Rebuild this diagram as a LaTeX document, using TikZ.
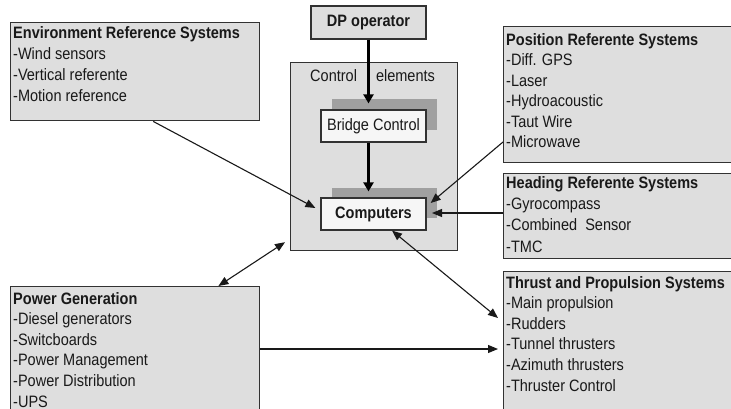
\documentclass[tikz,border=0pt]{standalone}
\usepackage{fontspec}
\setmainfont{Liberation Sans}[FakeStretch=0.88]
\usetikzlibrary{arrows.meta,calc}
\definecolor{boxgray}{RGB}{222,222,222}
\definecolor{shadowgray}{RGB}{160,160,160}
\definecolor{edge}{RGB}{50,50,50}
\definecolor{ink}{RGB}{25,25,25}
\definecolor{whitebox}{RGB}{246,246,246}
\begin{document}
\begin{tikzpicture}[x=1pt,y=-1pt,
  panel/.style={draw=edge, line width=1.4pt, fill=boxgray, anchor=north west, inner sep=0pt},
  lst/.style={anchor=base west, align=left, inner sep=0pt, text=ink, font=\fontsize{16.5}{20.6}\selectfont},
  innerbox/.style={draw=edge, line width=1.2pt, fill=whitebox, minimum width=105pt, minimum height=32pt, inner sep=0pt, text=ink, font=\fontsize{16.5}{20}\selectfont},
  shadebox/.style={fill=shadowgray, minimum width=105pt, minimum height=30pt, inner sep=0pt},
  arr/.style={draw=ink, line width=1.1pt, -{Triangle[length=10pt,width=8pt]}},
  darr/.style={draw=ink, line width=1.1pt, {Triangle[length=10pt,width=8pt]}-{Triangle[length=10pt,width=8pt]}},
  bigarr/.style={draw=black, line width=3pt, -{Triangle[length=9pt,width=10pt]}}
]
\useasboundingbox (0,0) rectangle (731,409);
\fill[white] (0,0) rectangle (731,409);

% panels
\node[panel, minimum width=249pt, minimum height=98pt] (env) at (10,22) {};
\node[panel, minimum width=232pt, minimum height=136pt] (pos) at (503,26) {};
\node[panel, minimum width=232pt, minimum height=85pt] (head) at (503,173) {};
\node[panel, minimum width=232pt, minimum height=150pt] (thr) at (503,271) {};
\node[panel, minimum width=249pt, minimum height=135pt] (pow) at (10,286) {};
\node[panel, line width=1.2pt, minimum width=167pt, minimum height=188pt] (ctrl) at (290,62) {};

% texts in panels (anchored at the baseline of their last line)
\node[lst, font=\fontsize{16.5}{21}\selectfont] (envt) at (13,102) {\textbf{Environment Reference Systems}\\-Wind sensors\\-Vertical referente\\-Motion reference};
\node[lst] (post) at (506,148) {\textbf{Position Referente Systems}\\-Diff. GPS\\-Laser\\-Hydroacoustic\\-Taut Wire\\-Microwave};
\node[lst, font=\fontsize{16.5}{21.2}\selectfont] (headt) at (506,252) {\textbf{Heading Referente Systems}\\-Gyrocompass\\-Combined\ \ Sensor\\-TMC};
\node[lst] (thrt) at (506,391) {\textbf{Thrust and Propulsion Systems}\\-Main propulsion\\-Rudders\\-Tunnel thrusters\\-Azimuth thrusters\\-Thruster Control};
\node[lst] (powt) at (13,407) {\textbf{Power Generation}\\-Diesel generators\\-Switcboards\\-Power Management\\-Power Distribution\\-UPS};
\node[lst] (ctrlt) at (310,82) {Control\hspace{15pt} elements};

% DP operator
\node[innerbox, fill=boxgray, minimum width=115pt, minimum height=33pt] (dp) at (368.5,22.5) {\textbf{DP operator}};

% shadows and inner boxes
\node[shadebox, minimum height=31pt] (bcs) at (384.5,114.5) {};
\node[innerbox] (bc) at (373.5,126) {Bridge Control};
\node[shadebox] (cs) at (384.5,202.5) {};
\node[innerbox] (comp) at (373.5,214) {\textbf{Computers}};

% thick arrows
\coordinate (t1) at ([yshift=6pt]bc.north);
\coordinate (t2) at ([yshift=6pt]comp.north);
\draw[bigarr] (dp.south) -- (dp.south |- t1);
\draw[bigarr] (dp.south |- bc.south) -- (dp.south |- t2);

% thin arrows
\draw[arr] ([xshift=18pt]env.south) -- ([xshift=-5pt,yshift=6pt]comp.west);
\draw[arr] ([yshift=-116pt]pos.north west) -- ([xshift=4pt,yshift=11pt]comp.east);
\coordinate (hc) at (432,213);
\draw[arr] (head.west |- hc) -- (hc);
\draw[darr] ([xshift=-42pt]pow.north east) -- ([xshift=-5pt,yshift=9pt]ctrl.south west);
\draw[darr] ([xshift=18.5pt]comp.south) -- ([xshift=-5pt,yshift=-47pt]thr.north west);
\draw[arr] ([yshift=-63pt]pow.north east) -- ([xshift=-5pt,yshift=-78pt]thr.north west);
\end{tikzpicture}
\end{document}
